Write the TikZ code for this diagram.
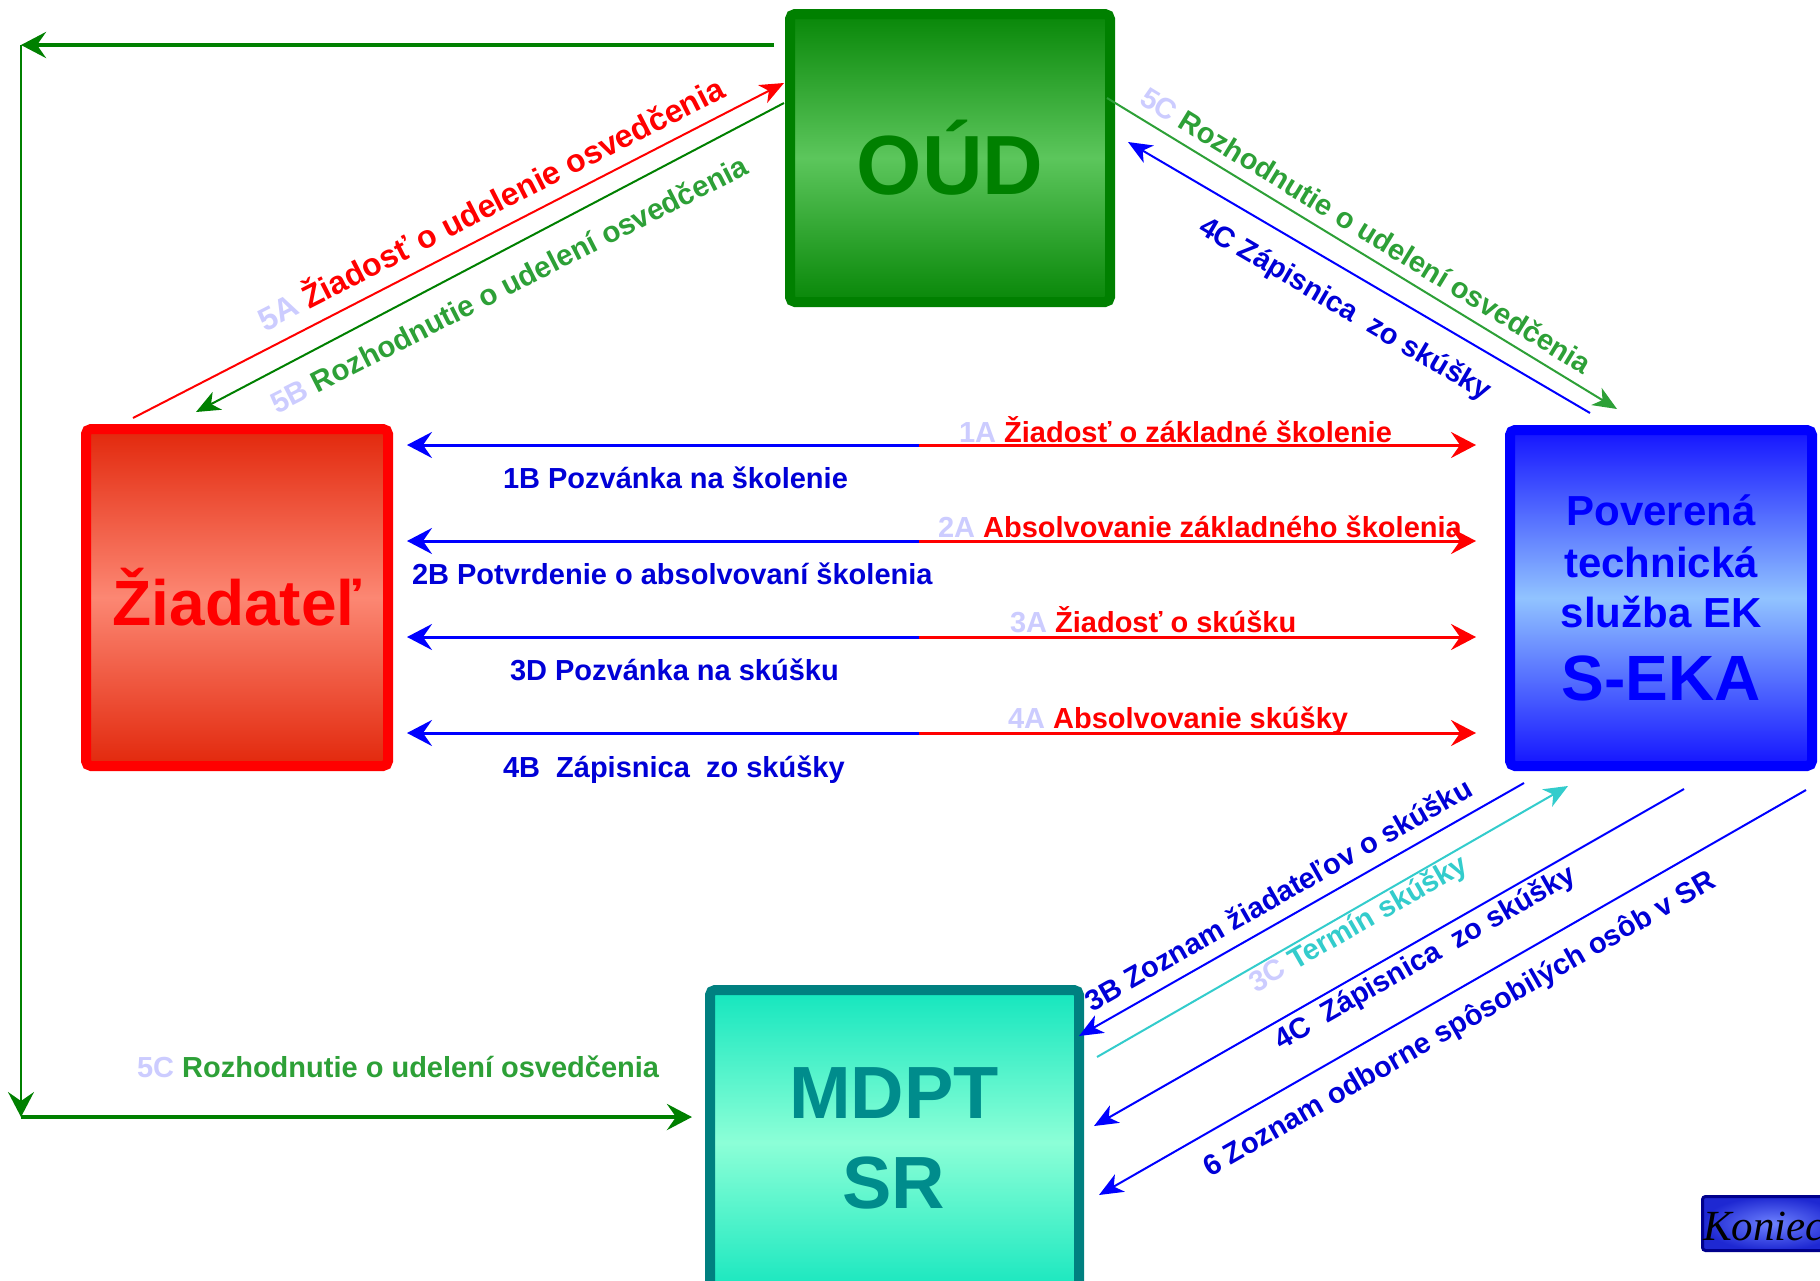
\documentclass[tikz,border=0pt]{standalone}
\usepackage{fontspec}
\setmainfont{Liberation Sans}
\newfontfamily\konfont{Liberation Serif}
\usetikzlibrary{arrows.meta,calc}
\definecolor{lav}{RGB}{204,204,255}
\definecolor{lblue}{RGB}{0,0,215}
\definecolor{lgreen}{RGB}{45,160,55}
\definecolor{dgreen}{RGB}{0,128,0}
\definecolor{cy}{RGB}{51,204,204}
\definecolor{teal2}{RGB}{0,128,128}
\definecolor{oudA}{RGB}{8,135,8}
\definecolor{oudB}{RGB}{92,198,92}
\definecolor{ziaA}{RGB}{226,40,12}
\definecolor{ziaB}{RGB}{252,135,115}
\definecolor{sekA}{RGB}{20,20,255}
\definecolor{sekB}{RGB}{145,195,255}
\definecolor{mdA}{RGB}{20,230,190}
\definecolor{mdB}{RGB}{140,255,215}
\definecolor{mdtext}{RGB}{0,140,140}
\definecolor{konA}{RGB}{30,40,210}
\definecolor{konB}{RGB}{110,130,255}
\definecolor{navy}{RGB}{0,0,140}
\begin{document}
\begin{tikzpicture}[x=1pt,y=-1pt,
  box/.style={draw, line width=10pt, rounded corners=5pt, inner sep=0pt, outer sep=0pt},
  lab/.style={font=\bfseries\fontsize{29}{34}\selectfont, inner sep=0pt, outer sep=0pt, anchor=base west},
  ttl/.style={inner sep=0pt, outer sep=0pt, anchor=base},
  hline/.style={line width=3pt},
  dline/.style={line width=2pt},
  tipH/.style={-{Stealth[length=25pt,width=26pt,inset=9pt]}},
  tipD/.style={-{Stealth[length=24pt,width=20pt,inset=7pt]}}
]
\useasboundingbox (0,0) rectangle (1820,1280);
\clip (0,0) rectangle (1820,1280);
\fill[white] (0,0) rectangle (1820,1280);

% boxes
\node[box, draw=dgreen, minimum width=320pt, minimum height=288pt,
      top color=oudA, bottom color=oudA, middle color=oudB, text=dgreen,
      font=\bfseries\fontsize{84}{90}\selectfont] (oud) at (950,158) {OÚD};
\node[box, draw=red, minimum width=302pt, minimum height=337pt,
      top color=ziaA, bottom color=ziaA, middle color=ziaB, text=red,
      font=\bfseries\fontsize{64}{70}\selectfont] (zia) at (237,597.5) {Žiadateľ};
\node[box, draw=blue, minimum width=302pt, minimum height=336pt,
      top color=sekA, bottom color=sekA, middle color=sekB] (seka) at (1661,598) {};
\node[ttl, text=blue, font=\bfseries\fontsize{42}{50}\selectfont] (seka1) at (1661,525) {Poverená};
\node[ttl, text=blue, font=\bfseries\fontsize{42}{50}\selectfont] (seka2) at (1661,577) {technická};
\node[ttl, text=blue, font=\bfseries\fontsize{42}{50}\selectfont] (seka3) at (1661,627) {služba EK};
\node[ttl, text=blue, font=\bfseries\fontsize{64}{70}\selectfont] (seka4) at (1661,700) {S-EKA};
\node[box, draw=teal2, minimum width=369pt, minimum height=305pt,
      top color=mdA, bottom color=mdA, middle color=mdB] (mdpt) at (894.5,1142.5) {};
\node[ttl, text=mdtext, font=\bfseries\fontsize{74}{80}\selectfont] (mdpt1) at (894,1118) {MDPT};
\node[ttl, text=mdtext, font=\bfseries\fontsize{74}{80}\selectfont] (mdpt2) at (894,1208) {SR};

% Koniec button
\node[draw=navy, line width=3pt, rounded corners=3pt, inner color=konB, outer color=konA,
      minimum width=140pt, minimum height=54pt, anchor=north west, inner sep=0pt, outer sep=0pt]
      (konbox) at (1702.5,1196.5) {};
\node[inner sep=0pt, anchor=base west, font=\konfont\itshape\fontsize{43}{48}\selectfont] (kon) at (1703,1240) {Koniec};

% horizontal arrows
\foreach \i/\yy in {1/445,2/541,3/637,4/733}{
  \coordinate (m\i) at (919,\yy);
  \draw[hline, blue, tipH, shorten >=19pt] (m\i) -- (zia.east |- m\i);
  \draw[hline, red, tipH, shorten >=34pt] (m\i) -- (seka.west |- m\i);
}
\node[lab, text=red] (l1a) at (959,442) {\textcolor{lav}{1A} Žiadosť o základné školenie};
\node[lab, text=lblue] (l1b) at (503,488) {1B Pozvánka na školenie};
\node[lab, text=red] (l2a) at (938,537) {\textcolor{lav}{2A} Absolvovanie základného školenia};
\node[lab, text=lblue] (l2b) at (412,584) {2B Potvrdenie o absolvovaní školenia};
\node[lab, text=red] (l3a) at (1010,632) {\textcolor{lav}{3A} Žiadosť o skúšku};
\node[lab, text=lblue] (l3d) at (510,680) {3D Pozvánka na skúšku};
\node[lab, text=red] (l4a) at (1008,728) {\textcolor{lav}{4A} Absolvovanie skúšky};
\node[lab, text=lblue] (l4b) at (503,777) {4B~ Zápisnica~ zo skúšky};

% green route OUD -> MDPT
\coordinate (g1) at (774,45);
\coordinate (g2) at (21,45);
\coordinate (g3) at (21,1117);
\draw[line width=4pt, dgreen, tipH] (g1) -- (g2);
\draw[line width=2pt, dgreen, tipH] (g2) -- (g3);
\draw[line width=4pt, dgreen, tipH, shorten >=18pt] (g3) -- (mdpt.west |- g3);
\node[lab, text=lgreen] (l5ch) at (137,1077) {\textcolor{lav}{5C} Rozhodnutie o udelení osvedčenia};

% diagonal arrows top-left
\coordinate (a5s) at (133,418);  \coordinate (a5e) at (784,83);
\coordinate (b5s) at (784,103);  \coordinate (b5e) at (196,412);
\draw[dline, red, tipD] (a5s) -- (a5e);
\draw[dline, dgreen, tipD] (b5s) -- (b5e);
\node[lab, text=red, rotate=27, font=\bfseries\fontsize{32}{36}\selectfont] (l5a) at (265,332) {\textcolor{lav}{5A} Žiadosť o udelenie osvedčenia};
\node[lab, text=lgreen, rotate=27, font=\bfseries\fontsize{29.5}{34}\selectfont] (l5b) at (277,414) {\textcolor{lav}{5B} Rozhodnutie o udelení osvedčenia};

% diagonal arrows top-right
\coordinate (c5s) at (1107,98);  \coordinate (c5e) at (1617,409);
\coordinate (c4s) at (1590,413); \coordinate (c4e) at (1128,142);
\draw[dline, lgreen, tipD] (c5s) -- (c5e);
\draw[dline, blue, tipD] (c4s) -- (c4e);
\node[lab, text=lgreen, rotate=-31.4] (l5c) at (1138,103) {\textcolor{lav}{5C} Rozhodnutie o udelení osvedčenia};
\node[lab, text=lblue, rotate=-30.4] (l4c) at (1197,232) {4C Zápisnica~ zo skúšky};

% diagonal arrows bottom-right
\coordinate (b3s) at (1524,783);  \coordinate (b3e) at (1079,1036);
\coordinate (c3s) at (1097,1057); \coordinate (c3e) at (1568,786);
\coordinate (d4s) at (1684,789);  \coordinate (d4e) at (1094,1126);
\coordinate (s6s) at (1806,790);  \coordinate (s6e) at (1099,1195);
\draw[dline, blue, tipD] (b3s) -- (b3e);
\draw[dline, cy, tipD] (c3s) -- (c3e);
\draw[dline, blue, tipD] (d4s) -- (d4e);
\draw[dline, blue, tipD] (s6s) -- (s6e);
\node[lab, text=lblue, rotate=29.6] (l3b) at (1092,1012) {3B Zoznam žiadateľov o skúšku};
\node[lab, text=cy, rotate=29.9] (l3c) at (1256,993) {\textcolor{lav}{3C} Termín skúšky};
\node[lab, text=lblue, rotate=29.7] (l4cb) at (1281,1050) {4C~ Zápisnica~ zo skúšky};
\node[lab, text=lblue, rotate=29.8] (l6) at (1210,1177) {6 Zoznam odborne spôsobilých osôb v SR};
\end{tikzpicture}
\end{document}
